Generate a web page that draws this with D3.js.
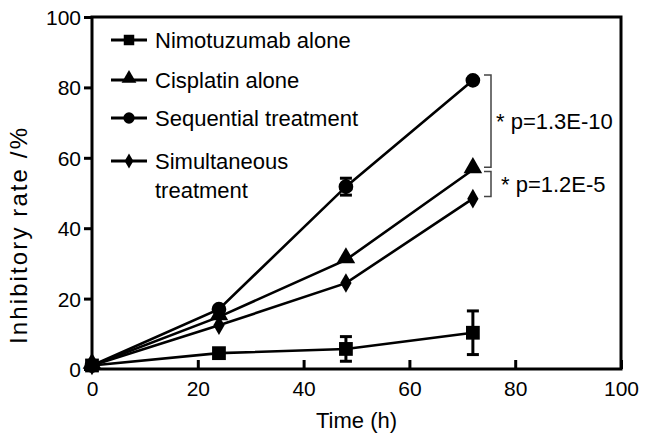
<!DOCTYPE html>
<html><head><meta charset="utf-8">
<script src="https://cdn.jsdelivr.net/npm/d3@7"></script>
<style>body{margin:0;background:#fff}svg{display:block}text{font-family:"Liberation Sans",Arial,sans-serif}</style>
</head><body><div id="chart"></div>
<script>
const times = [0, 24, 48, 72];
const seriesNames = ["Nimotuzumab alone", "Cisplatin alone", "Sequential treatment", "Simultaneous treatment"];
const nimotuzumab = [1, 4.5, 5.7, 10.3];
const nimotuzumabErr = [0, 0, 3.5, 6.2];
const cisplatin = [1, 14.8, 31, 56.6];
const cisplatinErr = [0, 0, 0, 0];
const sequential = [1, 17, 51.8, 82];
const sequentialErr = [0, 0, 2.4, 0];
const simultaneous = [1, 12.4, 24.4, 48.4];
const simultaneousErr = [0, 0, 0, 0];
const xTicks = [0, 20, 40, 60, 80, 100];
const yTicks = [0, 20, 40, 60, 80, 100];
const brackets = [{from: 83.5, to: 57.3, label: "* p=1.3E-10"}, {from: 56.1, to: 49.0, label: "* p=1.2E-5"}];

const W = 646, H = 436;
const m = {l: 92, r: 25, t: 17, b: 67};
const svg = d3.select("#chart").append("svg").attr("width", W).attr("height", H);
const x = d3.scaleLinear().domain([0, 100]).range([m.l, W - m.r]);
const y = d3.scaleLinear().domain([0, 100]).range([H - m.b, m.t]);

const symbols = [d3.symbolSquare, d3.symbolTriangle, d3.symbolCircle, d3.symbolDiamond];
const sizes = [190, 150, 170, 110];
const legSizes = [110, 95, 100, 65];
const data = [
  {vals: nimotuzumab, err: nimotuzumabErr},
  {vals: cisplatin, err: cisplatinErr},
  {vals: sequential, err: sequentialErr},
  {vals: simultaneous, err: simultaneousErr}
];

// frame
svg.append("rect").attr("x", x(0)).attr("y", y(100)).attr("width", x(100) - x(0)).attr("height", y(0) - y(100))
  .attr("fill", "none").attr("stroke", "#000").attr("stroke-width", 3);

// y axis (outward ticks)
const ya = svg.append("g").attr("transform", `translate(${x(0)},0)`)
  .call(d3.axisLeft(y).tickValues(yTicks).tickSize(8).tickPadding(3).tickFormat(d3.format("d")));
ya.select(".domain").remove();
ya.selectAll("line").attr("stroke", "#000").attr("stroke-width", 3);
ya.selectAll("text").attr("font-size", 21).attr("fill", "#000").attr("dy", "0.36em");

// x axis (inward ticks)
const xa = svg.append("g").attr("transform", `translate(0,${y(0)})`)
  .call(d3.axisBottom(x).tickValues(xTicks).tickSize(-9).tickPadding(10).tickFormat(d3.format("d")));
xa.select(".domain").remove();
xa.selectAll("line").attr("stroke", "#000").attr("stroke-width", 3);
xa.selectAll("text").attr("font-size", 21).attr("fill", "#000").attr("y", 12).attr("dy", "0.71em");

// titles
svg.append("text").attr("x", (x(0) + x(100)) / 2).attr("y", 428).attr("text-anchor", "middle")
  .attr("font-size", 22).text("Time (h)");
svg.append("text").attr("transform", "translate(27,236) rotate(-90)").attr("text-anchor", "middle")
  .attr("font-size", 24).attr("textLength", 216).attr("lengthAdjust", "spacing").text("Inhibitory rate /%");

const line = d3.line().x((d, i) => x(times[i])).y(d => y(d));
const order = [2, 1, 3, 0];
order.forEach(si => {
  const s = data[si];
  svg.append("path").attr("d", line(s.vals)).attr("fill", "none").attr("stroke", "#000").attr("stroke-width", 2.6);
});
order.forEach(si => {
  const s = data[si];
  const g = svg.append("g");
  s.vals.forEach((v, i) => {
    const e = s.err[i];
    if (e > 0) {
      g.append("line").attr("x1", x(times[i])).attr("x2", x(times[i])).attr("y1", y(v - e)).attr("y2", y(v + e))
        .attr("stroke", "#000").attr("stroke-width", 3);
      [v - e, v + e].forEach(c => g.append("line").attr("x1", x(times[i]) - 6).attr("x2", x(times[i]) + 6)
        .attr("y1", y(c)).attr("y2", y(c)).attr("stroke", "#000").attr("stroke-width", 3));
    }
    g.append("path").attr("d", d3.symbol().type(symbols[si]).size(sizes[si])())
      .attr("transform", `translate(${x(times[i])},${y(v) + (si === 1 ? -2 : 0)})`).attr("fill", "#000");
  });
});

// brackets
brackets.forEach((b, i) => {
  const bx = 491;
  svg.append("path").attr("d", `M${bx - 7},${y(b.from)}H${bx}V${y(b.to)}H${bx - 7}`)
    .attr("fill", "none").attr("stroke", "#444").attr("stroke-width", 1.5);
  svg.append("text").attr("x", bx + 5 + i * 5).attr("y", (y(b.from) + y(b.to)) / 2).attr("dy", "0.36em")
    .attr("font-size", 22).text(b.label);
});

// legend
const legY = [40, 80, 118, 161];
seriesNames.forEach((n, i) => {
  const g = svg.append("g").attr("transform", `translate(111,${legY[i]})`);
  g.append("line").attr("x1", 0).attr("x2", 36).attr("stroke", "#000").attr("stroke-width", 3);
  g.append("path").attr("d", d3.symbol().type(symbols[i]).size(legSizes[i])()).attr("transform", `translate(18,${i === 1 ? -1.5 : 0})`);
  const t = g.append("text").attr("x", 44).attr("dy", "0.36em").attr("font-size", 22);
  if (i === 3) {
    t.append("tspan").attr("x", 44).text("Simultaneous");
    t.append("tspan").attr("x", 44).attr("dy", 29).text("treatment");
  } else t.text(n);
});
</script></body></html>
